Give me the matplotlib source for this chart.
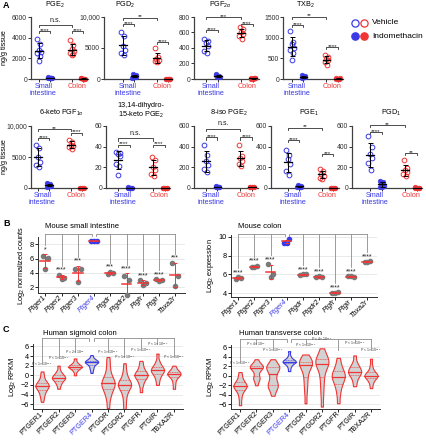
import numpy as np
import matplotlib
matplotlib.use('Agg')
import matplotlib.pyplot as plt
from matplotlib.ticker import FuncFormatter

plt.rcParams['font.family'] = ['Liberation Sans', 'DejaVu Sans']
plt.rcParams['mathtext.fontset'] = 'custom'
plt.rcParams['mathtext.rm'] = 'Liberation Sans'
plt.rcParams['mathtext.it'] = 'Liberation Sans:italic'
plt.rcParams['mathtext.bf'] = 'Liberation Sans:bold'

BLUE = '#3a3ae6'
RED = '#f03535'
GRAY = '#8c8c8c'

# ---------------- panel A : ng/g tissue, [small veh, small indo, colon veh, colon indo]
pge2 = [[3900, 3400, 2800, 2600, 2500, 2200, 1700], [150, 120, 100, 80, 60, 50, 100],
        [3800, 3300, 2900, 2700, 2500, 2400, 2300], [60, 40, 30, 20, 50, 30]]
pgd2 = [[7600, 7000, 5400, 4600, 4200, 3800], [800, 600, 500, 300, 200, 400],
        [5000, 3600, 3300, 3100, 2900, 2800], [50, 40, 30, 20, 60, 40]]
pgf2a = [[510, 490, 460, 420, 360, 340], [60, 40, 30, 20, 50, 30],
         [670, 640, 600, 580, 550, 520], [10, 8, 5, 12, 6, 9]]
txb2 = [[1170, 900, 850, 750, 700, 620, 450], [90, 70, 50, 40, 30, 60],
        [580, 530, 480, 450, 420, 350], [20, 10, 5, 15, 8, 12]]
ketoPgf1a = [[7000, 6500, 5000, 4200, 3700, 3400], [800, 600, 500, 300, 200, 400],
             [7800, 7400, 7000, 6800, 6600, 6300], [60, 40, 30, 20, 50]]
dihydroPge2 = [[35, 34, 33, 31, 23, 21, 13], [0.5, 0.3, 0.2, 0.4, 0.1, 0.3],
               [30, 27, 20, 17, 14, 12], [0.3, 0.2, 0.4, 0.1, 0.2]]
isoPge2 = [[420, 320, 260, 220, 180, 150], [15, 10, 8, 5, 12, 6],
           [420, 310, 290, 260, 235, 215], [10, 8, 5, 12, 6]]
pge1 = [[370, 320, 280, 230, 160, 130], [30, 20, 15, 10, 8, 12],
        [180, 160, 140, 120, 100, 90], [3, 2, 1, 4, 2]]
pgd1 = [[500, 400, 330, 290, 240, 170], [70, 60, 40, 20, 10, 5],
        [270, 190, 170, 150, 140, 120], [5, 3, 2, 4, 1]]

lipidTitles = ['PGE$_2$', 'PGD$_2$', 'PGF$_{2\\alpha}$', 'TXB$_2$', '6-keto PGF$_{1\\alpha}$',
               '13,14-dihydro-\n15-keto PGE$_2$', '8-iso PGE$_2$', 'PGE$_1$', 'PGD$_1$']
lipidData = [pge2, pgd2, pgf2a, txb2, ketoPgf1a, dihydroPge2, isoPge2, pge1, pgd1]
lipidTicks = [[0, 2000, 4000, 6000], [0, 5000, 10000], [0, 200, 400, 600, 800], [0, 500, 1000, 1500],
              [0, 5000, 10000], [0, 20, 40, 60], [0, 200, 400, 600], [0, 200, 400, 600], [0, 200, 400, 600]]
# (label, height) for: small veh vs colon veh, small veh vs indo, colon veh vs indo
lipidSig = [[('n.s.', 5250), ('****', 4650), ('****', 4650)],
            [('**', 9900), ('****', 8900), ('****', 6000)],
            [('***', 800), ('****', 630), ('****', 710)],
            [('**', 1510), ('****', 1300), ('****', 780)],
            [('**', 9500), ('****', 8100), ('****', 8950)],
            [('n.s.', 48), ('****', 42), ('****', 42)],
            [('n.s.', 575), ('****', 490), ('****', 490)],
            [('**', 585), ('****', 465), ('***', 327)],
            [('**', 610), ('****', 545), ('**', 337)]]

# ---------------- panel B : mouse receptor expression
mouseGenes = ['Ptger1', 'Ptger2', 'Ptger3', 'Ptger4', 'Ptgdr', 'Ptgdr2', 'Ptgfr', 'Ptgir', 'Tbxa2r']
siCounts = [[6.3, 6.1, 4.6], [3.7, 3.3, 3.2], [4.6, 4.5, 2.7], [8.4, 8.5, 8.4], [3.8, 4.0, 4.1],
            [3.6, 3.0, 0.9], [3.0, 2.6, 2.3], [3.1, 3.0, 2.9], [5.4, 3.5, 2.2]]
siStars = ['*', '****', '***', '', '***', '****', '****', '****', '***']
colonExpr = [[5.5, 5.6, 5.7], [6.8, 6.9, 6.8], [7.1, 6.0, 5.7], [9.4, 9.75, 9.4], [5.9, 6.0, 6.0],
             [5.7, 5.7, 5.8], [4.0, 4.1, 4.0], [5.8, 5.7, 5.8], [7.3, 7.4, 7.3]]
colonStars = ['****', '****', '****', '', '****', '****', '****', '****', '****']

# ---------------- panel C : human RPKM (representative samples)
humanGenes = ['PTGER1', 'PTGER2', 'PTGER3', 'PTGER4', 'PTGDR', 'PTGDR2', 'PTGFR', 'PTGIR', 'TBXA2R']
sigmoidRpkm = [
    [-5.5, -4.6, -4.0, -3.5, -3.1, -2.8, -2.6, -2.4, -2.2, -2.1, -1.9, -1.7, -1.5, -1.2, -0.7, 0.0, 0.8],
    [-2.8, -2.0, -1.6, -1.2, -1.0, -0.8, -0.6, -0.5, -0.4, -0.2, 0.0, 0.2, 0.5, 1.0, 2.0],
    [0.0, 0.8, 1.2, 1.4, 1.6, 1.7, 1.8, 1.9, 2.0, 2.2, 2.4, 2.8, 3.5],
    [0.5, 1.2, 1.6, 2.0, 2.3, 2.5, 2.6, 2.7, 2.8, 2.9, 3.0, 3.1, 3.3, 3.6, 4.2],
    [-6.8, -5.0, -4.0, -3.3, -2.8, -2.4, -2.1, -1.8, -1.5, -1.2, -0.9, -0.5, 0.2, 1.2, 2.5, 3.8],
    [-7.0, -5.5, -4.2, -3.4, -2.8, -2.4, -2.1, -2.0, -1.8, -1.5, -1.2, -0.8, 0.0, 1.0, 2.5],
    [-3.5, -2.2, -1.5, -1.0, -0.6, -0.3, -0.1, 0.0, 0.2, 0.4, 0.7, 1.0, 1.5, 2.2, 3.0],
    [-2.0, -1.0, -0.3, 0.2, 0.5, 0.8, 1.0, 1.1, 1.3, 1.6, 1.9, 2.3, 3.0, 4.5],
    [-2.8, -1.8, -1.0, -0.5, -0.2, 0.0, 0.2, 0.3, 0.4, 0.6, 0.8, 1.0, 1.4, 2.0]]
transverseRpkm = [
    [-6.2, -4.8, -3.8, -3.2, -2.8, -2.5, -2.3, -2.2, -2.0, -1.8, -1.5, -1.2, -0.8, 0.0, 0.8],
    [-2.0, -1.0, -0.6, -0.4, 0.2, 0.9, 1.3, 1.6, 1.8, 1.9, 2.0, 2.2, 2.4, 2.8, 3.5],
    [-4.2, -3.0, -2.4, -2.1, -1.8, -1.3, -0.5, 0.3, 1.0, 1.5, 1.7, 1.9, 2.1, 2.5, 3.5],
    [1.0, 1.8, 2.3, 2.6, 2.8, 2.9, 3.0, 3.1, 3.2, 3.4, 3.6, 4.2, 5.2],
    [-5.8, -3.5, -2.0, -0.8, 0.3, 1.2, 1.8, 2.2, 2.5, 2.7, 2.9, 3.1, 3.4, 3.8, 4.5],
    [-6.5, -4.0, -2.2, -0.8, 0.5, 1.5, 2.1, 2.5, 2.8, 3.0, 3.3, 3.6, 4.0, 4.8, 5.8],
    [-5.8, -4.0, -2.8, -2.0, -1.4, -0.9, -0.5, -0.2, 0.1, 0.4, 0.8, 1.2, 1.8, 2.6, 3.8],
    [-2.2, -1.2, -0.5, 0.0, 0.3, 0.6, 0.8, 1.0, 1.3, 1.6, 1.9, 2.3, 3.0, 4.3],
    [-2.6, -1.6, -1.0, -0.6, -0.3, -0.1, 0.0, 0.1, 0.3, 0.5, 0.8, 1.3, 2.2, 3.6]]
sigmoidP = ['$P$ < 1 × 10$^{-15}$', '$P$ < 1 × 10$^{-15}$', '$P$ = 2 × 10$^{-5}$', '',
            '$P$ < 1 × 10$^{-15}$', '$P$ < 1 × 10$^{-15}$', '$P$ < 1 × 10$^{-15}$',
            '$P$ < 1 × 10$^{-15}$', '$P$ < 1 × 10$^{-15}$']
sigmoidPY = [1.5, 2.7, 4.0, 0, 4.0, 2.9, 4.5, 5.6, 2.9]
transverseP = ['$P$ < 1 × 10$^{-15}$', '$P$ < 4 × 10$^{-6}$', '$P$ < 1 × 10$^{-15}$', '',
               '$P$ < 1 × 10$^{-15}$', '$P$ < 4 × 10$^{-12}$', '',
               '$P$ < 1 × 10$^{-15}$', '$P$ < 1 × 10$^{-15}$']
transversePY = [1.8, 5.8, 4.5, 0, 5.6, 6.9, 4.6, 6.0, 4.5]

W, H = 427, 440
fig = plt.figure(figsize=(W / 100, H / 100), dpi=100)


def addAxes(l, t, r, b):
    return fig.add_axes([l / W, 1 - b / H, (r - l) / W, (b - t) / H])


def figText(x, y, s, **kw):
    fig.text(x / W, 1 - y / H, s, **kw)


def thousands(v, pos):
    return f'{int(v):,}' if v >= 10000 else str(int(v))


# axes left, top, right, bottom and pixel x of first/last group
layoutA = [(31, 17, 88, 79, 39, 83), (104, 17, 172, 79, 123, 168), (194, 17, 259, 79, 206, 253),
           (283, 17, 343, 79, 292, 338), (31, 126, 87, 188, 38, 82), (106, 126, 170, 188, 118, 165),
           (194, 126, 258, 188, 206, 252), (271, 126, 339, 188, 288, 333), (352, 126, 422, 188, 370, 417)]
titleShift = [-5, -13, -6, -8, 2, 3, 3, 4, 4]
groupPos = [1, 2, 4, 5]
jitter = [-0.14, 0.13, -0.04, 0.17, -0.17, 0.05, 0.0]

for n in range(9):
    l, t, r, b, p1, p5 = layoutA[n]
    ax = addAxes(l, t, r, b)
    unit = (p5 - p1) / 4
    ax.set_xlim(1 - (p1 - l) / unit, 5 + (r - p5) / unit)
    ticks = lipidTicks[n]
    ymax = ticks[-1]
    ax.set_ylim(0, ymax)
    ax.set_yticks(ticks)
    ax.yaxis.set_major_formatter(FuncFormatter(thousands))
    ax.set_xticks(groupPos)
    ax.set_xticklabels([])
    for s in ['top', 'right']:
        ax.spines[s].set_visible(False)
    for s in ['left', 'bottom']:
        ax.spines[s].set_linewidth(0.9)
        ax.spines[s].set_color('#404040')
    ax.tick_params(labelsize=4.9, length=2, width=0.7, pad=0.8, colors='#303030')

    for k, vals in enumerate(lipidData[n]):
        col = BLUE if k < 2 else RED
        pos = groupPos[k]
        xs = [pos + jitter[i % len(jitter)] for i in range(len(vals))]
        if k % 2 == 0:
            ax.plot(xs, vals, 'o', ms=3.4, mfc='none', mec=col, mew=0.7, clip_on=False, zorder=3)
        else:
            ax.plot(xs, vals, 'o', ms=3.4, mfc=col, mec=col, mew=0.4, clip_on=False, zorder=3)
        m = np.mean(vals)
        sd = np.std(vals, ddof=1)
        ax.plot([pos - 0.32, pos + 0.32], [m, m], color='k', lw=0.9, zorder=4, clip_on=False)
        ax.errorbar(pos, m, yerr=sd, color='k', lw=0.7, capsize=1.8, capthick=0.7, zorder=4)

    hook = ymax * 0.035
    for (lab, yv), (x1, x2) in zip(lipidSig[n], [(1, 4), (1, 2), (4, 5)]):
        ax.plot([x1, x1, x2, x2], [yv - hook, yv, yv, yv - hook], color='#303030', lw=0.6, clip_on=False)
        off = ymax * 0.01 if lab != 'n.s.' else ymax * 0.02
        ax.text((x1 + x2) / 2, yv + off, lab, ha='center', va='bottom' if lab == 'n.s.' else 'center',
                fontsize=5 if lab == 'n.s.' else 4.5, color='#202020', clip_on=False)

    ax.annotate('Small\nintestine', xy=(1.4, 0), xycoords=('data', 'axes fraction'), xytext=(0, -3),
                textcoords='offset points', ha='center', va='top', fontsize=5.2, color=BLUE, linespacing=0.95)
    ax.annotate('Colon', xy=(4.5, 0), xycoords=('data', 'axes fraction'), xytext=(0, -3),
                textcoords='offset points', ha='center', va='top', fontsize=5.2, color=RED)
    titleY = 5 if n < 4 else (113 if n != 5 else 111)
    figText((l + r) / 2 + titleShift[n], titleY, lipidTitles[n], ha='center', va='center',
            fontsize=5.2, linespacing=1.0)

figText(5, 48, 'ng/g tissue', rotation=90, ha='center', va='center', fontsize=5.2)
figText(5, 157, 'ng/g tissue', rotation=90, ha='center', va='center', fontsize=5.2)

# legend
overlay = fig.add_axes([0, 0, 1, 1])
overlay.set_xlim(0, W)
overlay.set_ylim(H, 0)
overlay.axis('off')
overlay.plot([355], [23], 'o', ms=5.2, mfc='none', mec=BLUE, mew=0.9)
overlay.plot([364], [23], 'o', ms=5.2, mfc='none', mec=RED, mew=0.9)
overlay.plot([355], [36], 'o', ms=5.2, mfc=BLUE, mec=BLUE)
overlay.plot([364], [36], 'o', ms=5.2, mfc=RED, mec=RED)
overlay.text(372, 23, 'Vehicle', va='center', fontsize=6)
overlay.text(372, 36, 'Indomethacin', va='center', fontsize=6)

# panel letters
figText(3, 6, 'A', fontsize=6.5, fontweight='bold', va='center')
figText(3, 224, 'B', fontsize=6.5, fontweight='bold', va='center')
figText(3, 329, 'C', fontsize=6.5, fontweight='bold', va='center')


def styleGeneAxes(ax, genes, italic):
    for s in ['top', 'right']:
        ax.spines[s].set_visible(False)
    for s in ['left', 'bottom']:
        ax.spines[s].set_linewidth(0.7)
        ax.spines[s].set_color('#303030')
    ax.set_xticks(range(9))
    ax.set_xticklabels(genes, rotation=45, ha='right', va='center', rotation_mode='anchor', fontsize=5.2,
                       style='italic' if italic else 'normal')
    ax.get_xticklabels()[3].set_color(BLUE)
    ax.tick_params(labelsize=5.3, length=2, width=0.6, pad=1)
    ax.tick_params(axis='x', labelsize=5.2, pad=0.8)
    ax.grid(axis='y', color='#e6e6e6', lw=0.6)
    ax.set_axisbelow(True)


def geneBracket(ax, dropEnds, yTop, hook):
    gap = 0.13
    kw = dict(color=GRAY, lw=0.6, clip_on=False)
    ax.plot([0, 3 - gap, 3 - gap], [yTop, yTop, yTop - hook], **kw)
    ax.plot([3 + gap, 3 + gap, 8], [yTop - hook, yTop, yTop], **kw)
    for i, yEnd in enumerate(dropEnds):
        if i != 3:
            ax.plot([i, i], [yTop, min(yEnd, yTop)], **kw)


def drawMouse(box, values, stars, ylim, ticks, yTop, starOff, ylabel, title, titleX):
    ax = addAxes(*box)
    ax.set_xlim(-0.45, 8.6)
    ax.set_ylim(*ylim)
    ax.set_yticks(ticks)
    styleGeneAxes(ax, mouseGenes, True)
    drops = []
    for i, vals in enumerate(values):
        col = BLUE if i == 3 else '#7a7a7a'
        ax.plot([i - 0.17, i + 0.17, i][:len(vals)], vals, 'o', ms=3.0, color=col, zorder=3, clip_on=False)
        m = np.mean(vals)
        sd = np.std(vals, ddof=1)
        ax.plot([i - 0.3, i + 0.3], [m, m], color=RED, lw=1.1, zorder=4)
        ax.errorbar(i, m, yerr=sd, color=RED, lw=0.7, capsize=1.6, capthick=0.7, zorder=4)
        top = max(m + sd, max(vals))
        sy = top + starOff
        ax.text(i, sy, stars[i], ha='center', va='center', fontsize=5, color='#202020')
        drops.append(sy + starOff * 0.9)
    geneBracket(ax, drops, yTop, (ylim[1] - ylim[0]) * 0.04)
    ax.set_ylabel(ylabel, fontsize=5.3, labelpad=2)
    figText(titleX, 227, title, fontsize=5.5, va='center')


drawMouse((38, 237, 185, 293), siCounts, siStars, (1.2, 9.0), [2, 4, 6, 8], 9.4, 0.65,
          'Log$_2$ normalized counts', 'Mouse small intestine', 45)
drawMouse((231, 235, 377, 297), colonExpr, colonStars, (3.6, 10.2), [4, 6, 8, 10], 10.35, 0.5,
          'Log$_2$ expression', 'Mouse colon', 238)


def drawHuman(box, samples, pLabels, pY, ylabel, title, titleX):
    ax = addAxes(*box)
    ax.set_xlim(-0.55, 8.55)
    ax.set_ylim(-7, 6.5)
    ax.set_yticks([-6, -4, -2, 0, 2, 4, 6])
    styleGeneAxes(ax, humanGenes, False)
    parts = ax.violinplot(samples, positions=range(9), widths=0.8, showextrema=False, bw_method=0.35)
    for i, body in enumerate(parts['bodies']):
        col = BLUE if i == 3 else RED
        body.set_facecolor('#d2d2d2')
        body.set_edgecolor(col)
        body.set_linewidth(0.8)
        body.set_alpha(1)
        v = body.get_paths()[0].vertices
        right = v[v[:, 0] >= i]
        order = np.argsort(right[:, 1])
        for q, ls, lw in [(50, '-', 0.9), (25, (0, (2, 1)), 0.4), (75, (0, (2, 1)), 0.4)]:
            yq = np.percentile(samples[i], q)
            hw = np.interp(yq, right[order, 1], right[order, 0]) - i
            ax.plot([i - hw, i + hw], [yq, yq], color=col, lw=lw, ls=ls, zorder=3)
    drops = []
    for i, lab in enumerate(pLabels):
        if lab:
            ax.text(i, pY[i], lab, ha='center', va='bottom', fontsize=2.4, color='#303030')
        drops.append(pY[i] + 0.85)
    geneBracket(ax, drops, 7.7, 0.5)
    ax.set_ylabel(ylabel, fontsize=5.3, labelpad=2)
    figText(titleX, 333, title, fontsize=5.5, va='center')


drawHuman((33, 344, 183, 409), sigmoidRpkm, sigmoidP, sigmoidPY, 'Log$_2$ RPKM', 'Human sigmoid colon', 43)
drawHuman((231, 345, 380, 409), transverseRpkm, transverseP, transversePY, 'Log$_2$ RPKM',
          'Human transverse colon', 239)

fig.savefig('out.png', dpi=100)
